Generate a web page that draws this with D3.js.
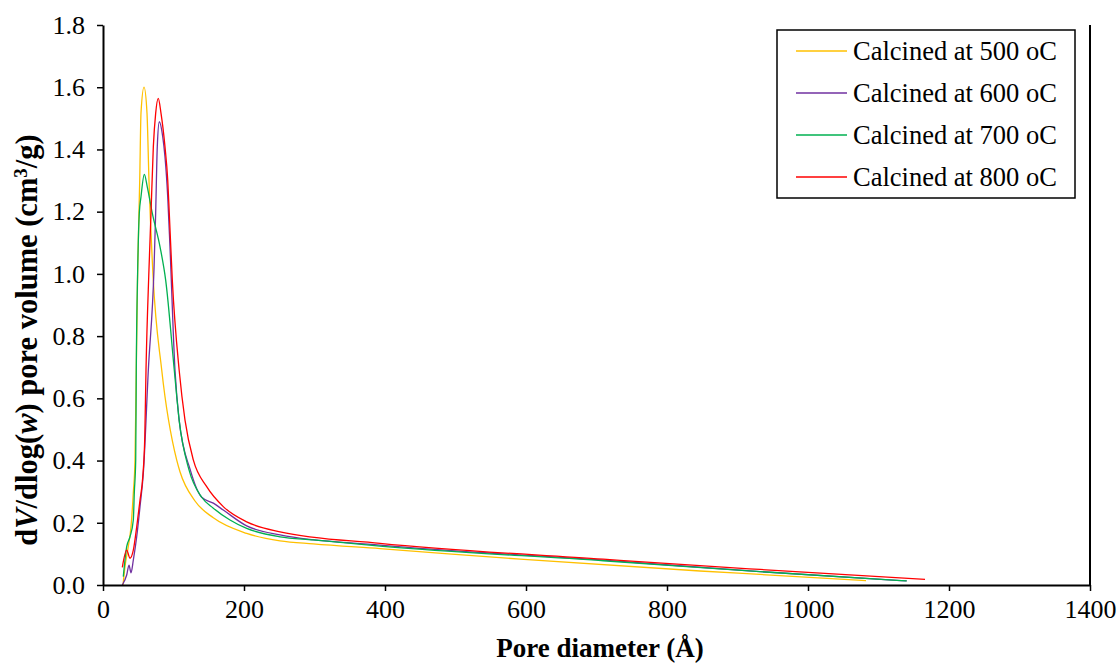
<!DOCTYPE html>
<html>
<head>
<meta charset="utf-8">
<script src="https://cdn.jsdelivr.net/npm/d3@7"></script>
<style>
  body { margin: 0; background: #fff; }
  svg { display: block; }
  text { font-family: "Liberation Serif", "Times New Roman", serif; fill: #000; }
</style>
</head>
<body>
<svg id="chart" width="1119" height="665"></svg>
<script>
// ---- Data ----
const seriesNames = ["Calcined at 500 oC", "Calcined at 600 oC", "Calcined at 700 oC", "Calcined at 800 oC"];
const seriesColors = ["#FFC000", "#7030A0", "#00B050", "#FF0000"];

const x500 = [28.4, 31.2, 35.9, 39.7, 43.0, 45.4, 47.2, 49.2, 52.1, 53.9, 58.2, 62.4, 65.2, 70.9, 83.3, 104.5, 109.2, 130.5, 156.5, 203.8, 251.1, 298.3, 392.9, 591.5, 846.8, 931.9, 1082.3];
const y500 = [0.0, 0.059, 0.124, 0.187, 0.296, 0.402, 0.691, 1.013, 1.302, 1.517, 1.600, 1.517, 1.302, 0.997, 0.691, 0.402, 0.364, 0.270, 0.216, 0.166, 0.142, 0.132, 0.117, 0.083, 0.045, 0.034, 0.014];

const x600 = [27.4, 33.6, 36.9, 39.7, 43.0, 47.8, 52.5, 57.2, 64.3, 72.3, 74.7, 77.0, 79.9, 84.7, 87.9, 91.8, 95.0, 102.1, 108.0, 123.8, 140.0, 156.5, 170.6, 203.8, 251.1, 392.9, 709.6, 931.9, 1140.0];
const y600 = [0.0, 0.032, 0.064, 0.039, 0.080, 0.155, 0.252, 0.359, 0.691, 1.013, 1.196, 1.409, 1.489, 1.441, 1.377, 1.248, 1.087, 0.691, 0.530, 0.370, 0.282, 0.263, 0.241, 0.190, 0.161, 0.128, 0.080, 0.043, 0.013];

const x700 = [28.8, 33.6, 38.3, 43.0, 44.4, 46.4, 47.2, 49.2, 51.5, 53.9, 58.6, 62.8, 69.9, 80.9, 88.9, 101.1, 108.0, 122.0, 140.0, 156.5, 180.1, 203.8, 251.1, 298.3, 392.9, 709.6, 931.9, 1140.0];
const y700 = [0.027, 0.123, 0.155, 0.209, 0.296, 0.402, 0.691, 1.013, 1.196, 1.248, 1.320, 1.280, 1.195, 1.087, 0.980, 0.691, 0.530, 0.370, 0.282, 0.247, 0.209, 0.182, 0.155, 0.145, 0.125, 0.078, 0.043, 0.013];

const x800 = [27.4, 33.6, 38.3, 43.0, 47.8, 52.5, 56.5, 59.3, 61.0, 65.2, 68.1, 71.4, 74.7, 78.4, 82.3, 87.9, 91.8, 94.0, 98.3, 108.0, 116.3, 128.1, 147.1, 170.6, 203.8, 251.1, 392.9, 709.6, 846.8, 931.9, 1166.0];
const y800 = [0.057, 0.112, 0.086, 0.112, 0.187, 0.273, 0.350, 0.480, 0.691, 1.013, 1.196, 1.409, 1.516, 1.564, 1.516, 1.409, 1.302, 1.196, 0.980, 0.691, 0.530, 0.402, 0.316, 0.252, 0.203, 0.171, 0.134, 0.083, 0.062, 0.050, 0.018];

const xTicks = [0, 200, 400, 600, 800, 1000, 1200, 1400];
const yTicks = [0.0, 0.2, 0.4, 0.6, 0.8, 1.0, 1.2, 1.4, 1.6, 1.8];

const seriesX = [x500, x600, x700, x800];
const seriesY = [y500, y600, y700, y800];

// ---- Layout ----
const svg = d3.select("#chart");
const mLeft = 103, mRight = 1090, mTop = 25, mBottom = 585;

const x = d3.scaleLinear().domain([0, 1400]).range([mLeft, mRight]);
const y = d3.scaleLinear().domain([0, 1.8]).range([mBottom, mTop]);

// Lines
const line = d3.line()
  .x(d => x(d[0]))
  .y(d => y(d[1]))
  .curve(d3.curveMonotoneX);

seriesX.forEach((xs, i) => {
  const pts = xs.map((v, j) => [v, seriesY[i][j]]);
  svg.append("path")
    .datum(pts)
    .attr("d", line)
    .attr("fill", "none")
    .attr("stroke", seriesColors[i])
    .attr("stroke-width", 1.3);
});

// Axes
const xAxis = d3.axisBottom(x).tickValues(xTicks).tickSize(6).tickSizeOuter(0).tickPadding(9)
  .tickFormat(d3.format("d"));
const yAxis = d3.axisLeft(y).tickValues(yTicks).tickSize(6).tickSizeOuter(0).tickPadding(12)
  .tickFormat(d3.format(".1f"));

const gx = svg.append("g").attr("transform", `translate(0,${mBottom})`).call(xAxis);
const gy = svg.append("g").attr("transform", `translate(${mLeft},0)`).call(yAxis);

[gx, gy].forEach(g => {
  g.select(".domain").attr("stroke", "#000").attr("stroke-width", 2);
  g.selectAll(".tick line").attr("stroke", "#000").attr("stroke-width", 1.5);
  g.selectAll(".tick text")
    .style("font-family", '"Liberation Serif", "Times New Roman", serif')
    .style("font-size", "26px")
    .attr("fill", "#000");
});

// Right border line
svg.append("line")
  .attr("x1", mRight).attr("x2", mRight)
  .attr("y1", y(1.8)).attr("y2", mBottom)
  .attr("stroke", "#000").attr("stroke-width", 2);

// Axis titles
svg.append("text")
  .attr("x", 600)
  .attr("y", 657)
  .attr("text-anchor", "middle")
  .style("font-size", "27px")
  .style("font-weight", "bold")
  .text("Pore diameter (Å)");

const yt = svg.append("text")
  .attr("transform", `translate(37,340) rotate(-90)`)
  .attr("text-anchor", "middle")
  .style("font-size", "30.5px")
  .style("font-weight", "bold");
yt.append("tspan").text("d");
yt.append("tspan").style("font-style", "italic").text("V");
yt.append("tspan").text("/dlog(");
yt.append("tspan").style("font-style", "italic").text("w");
yt.append("tspan").text(") pore volume (cm");
yt.append("tspan").attr("baseline-shift", "super").style("font-size", "19px").text("3");
yt.append("tspan").text("/g)");

// Legend
const lg = svg.append("g");
lg.append("rect")
  .attr("x", 777).attr("y", 30)
  .attr("width", 298).attr("height", 168)
  .attr("fill", "#fff")
  .attr("stroke", "#000").attr("stroke-width", 1.5);

seriesNames.forEach((name, i) => {
  const cy = 51 + i * 42;
  lg.append("line")
    .attr("x1", 796).attr("x2", 847)
    .attr("y1", cy).attr("y2", cy)
    .attr("stroke", seriesColors[i]).attr("stroke-width", 1.3);
  lg.append("text")
    .attr("x", 853).attr("y", cy)
    .attr("dy", "0.35em")
    .style("font-size", "26.5px")
    .text(name);
});
</script>
</body>
</html>
